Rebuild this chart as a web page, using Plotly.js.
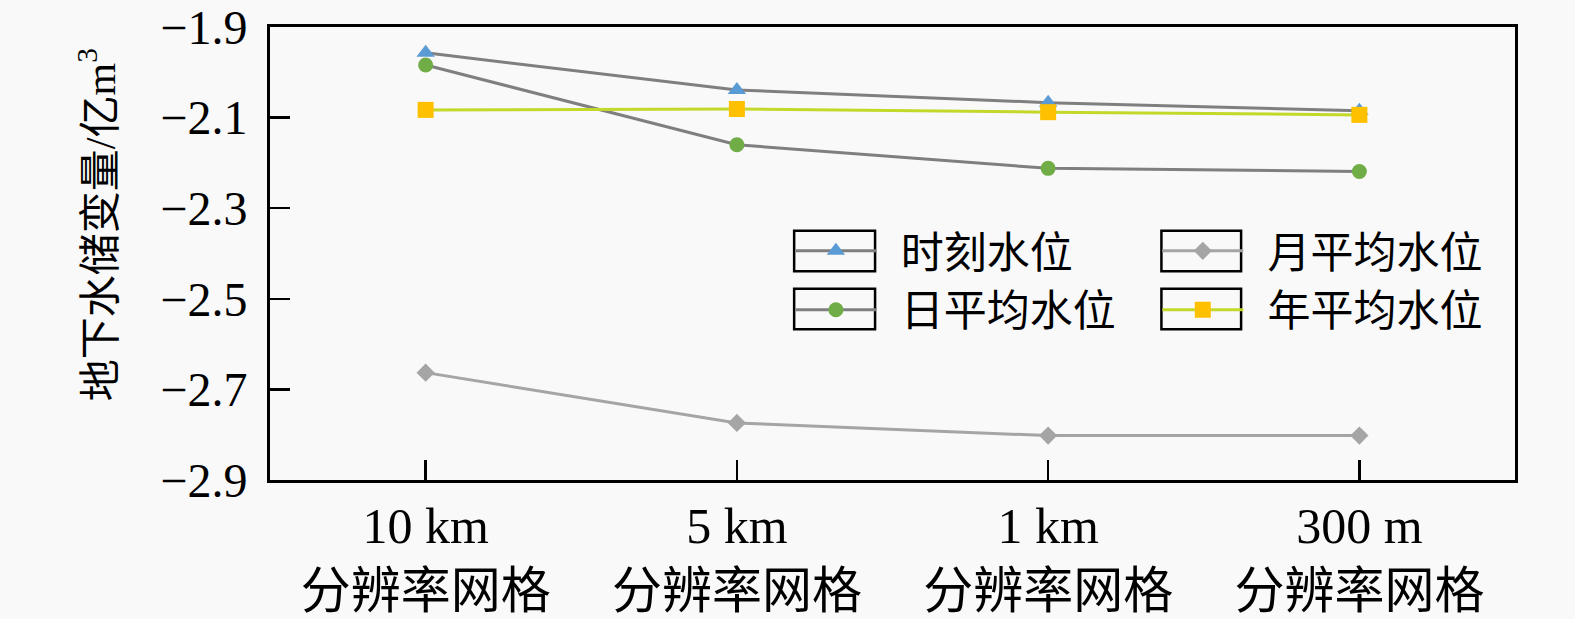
<!DOCTYPE html>
<html>
<head>
<meta charset="utf-8">
<script src="https://cdn.plot.ly/plotly-3.0.1.min.js"></script>
<style>
html,body{margin:0;padding:0;background:#f9f9f9;}
#chart{width:1575px;height:619px;}
</style>
</head>
<body>
<div id="chart"></div>
<script>
// categories (x tick labels)
const categories = ['10 km<br>分辨率网格', '5 km<br>分辨率网格', '1 km<br>分辨率网格', '300 m<br>分辨率网格'];
// series values (亿m³)
const shikeValues = [-1.957, -2.039, -2.067, -2.085];   // 时刻水位
const yuePingjun  = [-2.663, -2.774, -2.802, -2.802];   // 月平均水位
const riPingjun   = [-1.984, -2.160, -2.212, -2.219];   // 日平均水位
const nianPingjun = [-2.083, -2.081, -2.088, -2.094];   // 年平均水位
const seriesNames = ['时刻水位', '月平均水位', '日平均水位', '年平均水位'];
const yTickVals = [-2.9, -2.7, -2.5, -2.3, -2.1, -1.9];
const yTitle = '地下水储变量/亿m<sup>3</sup>';

const FONT = '"Liberation Serif", "Times New Roman", "Noto Sans CJK SC", serif';
const PAD = '  ';

const traces = [
  {x: categories, y: shikeValues, name: PAD + seriesNames[0], mode: 'lines+markers', legend: 'legend',
   line: {color: '#7f7f7f', width: 3}, marker: {symbol: 'triangle-up', size: 16, color: '#5b9bd5'}},
  {x: categories, y: riPingjun, name: PAD + seriesNames[2], mode: 'lines+markers', legend: 'legend',
   line: {color: '#7f7f7f', width: 3}, marker: {symbol: 'circle', size: 15, color: '#70ad47'}},
  {x: categories, y: yuePingjun, name: PAD + seriesNames[1], mode: 'lines+markers', legend: 'legend2',
   line: {color: '#a5a5a5', width: 3}, marker: {symbol: 'diamond', size: 14, color: '#a5a5a5'}},
  {x: categories, y: nianPingjun, name: PAD + seriesNames[3], mode: 'lines+markers', legend: 'legend2',
   line: {color: '#c4d82a', width: 3}, marker: {symbol: 'square', size: 16, color: '#ffc000'}}
];

function box(x0, x1, y0, y1) {
  return {type: 'rect', xref: 'paper', yref: 'paper', x0: x0, x1: x1, y0: y0, y1: y1,
          line: {color: '#000', width: 2.5}, fillcolor: 'rgba(0,0,0,0)', layer: 'below'};
}

const legendBase = {
  orientation: 'v', xanchor: 'left', yanchor: 'top', y: 0.582,
  itemwidth: 81, bgcolor: 'rgba(0,0,0,0)', borderwidth: 0,
  font: {size: 43, family: '"Noto Sans CJK SC", sans-serif', color: '#000'},
  tracegroupgap: 0, traceorder: 'normal'
};

const layout = {
  width: 1575, height: 619,
  margin: {l: 270, r: 60, t: 27, b: 139},
  paper_bgcolor: '#f9f9f9', plot_bgcolor: '#f9f9f9',
  font: {family: FONT, color: '#000'},
  showlegend: true,
  legend: Object.assign({}, legendBase, {x: 0.418}),
  legend2: Object.assign({}, legendBase, {x: 0.7127}),
  xaxis: {
    type: 'category', range: [-0.5, 3.5], tickangle: 0, automargin: false,
    showline: true, linecolor: '#000', linewidth: 3, mirror: true,
    ticks: 'inside', ticklen: 20, tickwidth: 2.5, tickcolor: '#000',
    showgrid: false, zeroline: false,
    tickfont: {size: 50, family: FONT, color: '#000'},
    ticklabelstandoff: 0
  },
  yaxis: {
    range: [-2.9, -1.9], tickvals: yTickVals, tickformat: '.1f', automargin: false,
    showline: true, linecolor: '#000', linewidth: 3, mirror: true,
    ticks: 'inside', ticklen: 20, tickwidth: 2.5, tickcolor: '#000',
    showgrid: false, zeroline: false,
    tickfont: {size: 48, family: FONT, color: '#000'},
    ticklabelstandoff: 10
  },
  annotations: [{
    text: yTitle, xref: 'paper', yref: 'paper', x: -0.138, y: 0.563,
    xanchor: 'center', yanchor: 'middle', textangle: -90, showarrow: false,
    font: {size: 42, family: FONT, color: '#000'}
  }],
  shapes: [
    box(0.421, 0.486, 0.461, 0.550),
    box(0.716, 0.780, 0.461, 0.550),
    box(0.421, 0.486, 0.333, 0.422),
    box(0.716, 0.780, 0.333, 0.422)
  ]
};

Plotly.newPlot('chart', traces, layout, {displayModeBar: false, staticPlot: true});
</script>
</body>
</html>
